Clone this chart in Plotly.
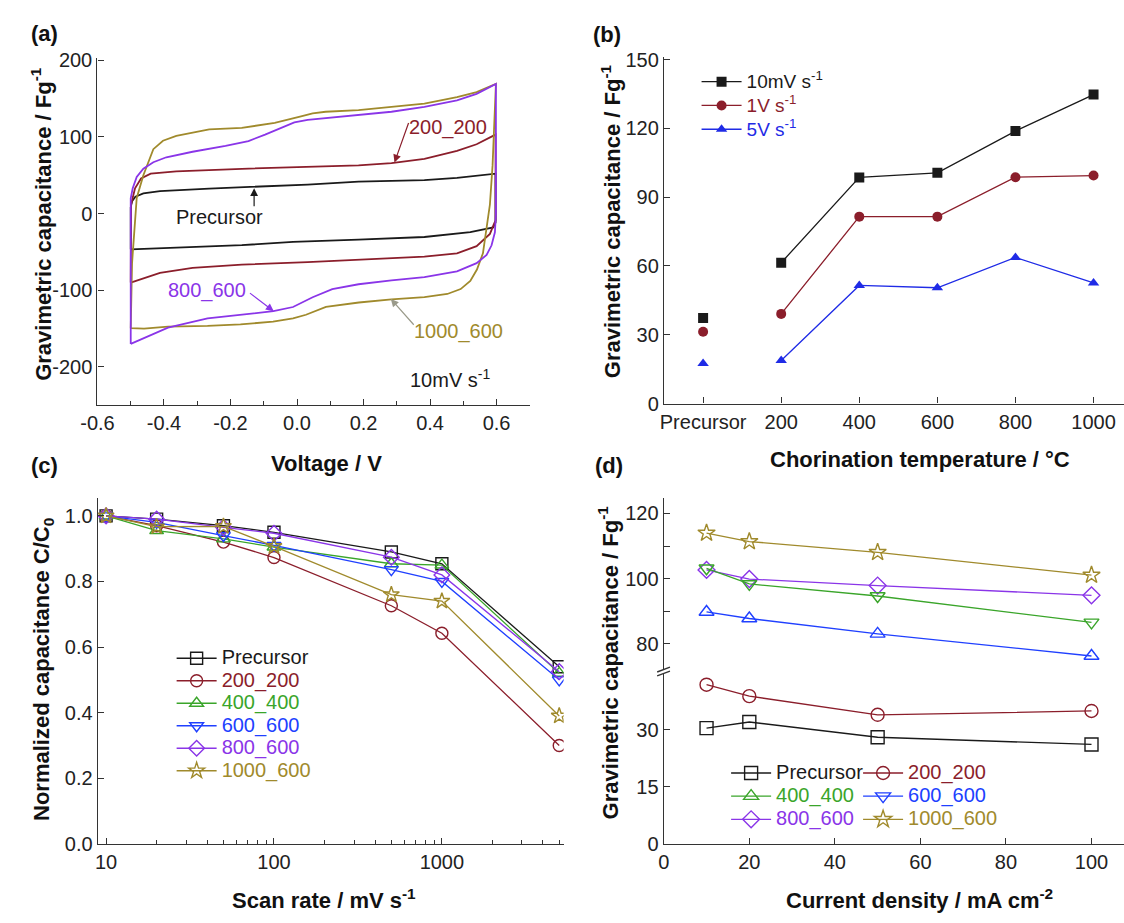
import plotly.graph_objects as go

FONT = "Liberation Sans, Arial, sans-serif"

# ---------------- (a) cyclic voltammograms, 10 mV/s ----------------
cv_pre_v = [-0.500, -0.500, -0.496, -0.486, -0.462, -0.412, -0.264, -0.126, 0.032, 0.185, 0.383, 0.481, 0.597,
            0.597, 0.590, 0.521, 0.383, 0.185, -0.012, -0.166, -0.363, -0.500]
cv_pre_c = [-46.7, 8.0, 16.0, 22.0, 26.3, 29.2, 32.6, 34.7, 37.8, 41.6, 43.7, 46.6, 52.0,
            -11.6, -18.0, -24.3, -30.6, -34.1, -37.0, -41.2, -44.2, -46.7]

cv_200_v = [-0.500, -0.499, -0.487, -0.469, -0.440, -0.363, -0.166, 0.032, 0.185, 0.284, 0.383, 0.481, 0.540, 0.597,
            0.597, 0.592, 0.580, 0.540, 0.481, 0.383, 0.185, 0.032, -0.166, -0.314, -0.412, -0.500]
cv_200_c = [-90.0, 11.8, 33.0, 45.7, 52.0, 55.0, 58.4, 60.6, 62.8, 65.8, 71.3, 81.9, 90.4, 103.0,
            -9.0, -13.8, -26.5, -42.6, -51.9, -56.1, -60.4, -63.3, -66.7, -70.9, -77.3, -90.0]

cv_800_v = [-0.500, -0.500, -0.494, -0.482, -0.462, -0.432, -0.393, -0.314, -0.215, -0.146, -0.096, -0.047, -0.008,
            0.032, 0.086, 0.185, 0.284, 0.383, 0.481, 0.540, 0.598,
            0.598, 0.595, 0.585, 0.570, 0.540, 0.481, 0.383, 0.284, 0.185, 0.106, 0.047, -0.012, -0.071,
            -0.170, -0.269, -0.388, -0.500]
cv_800_c = [-170.0, 20.0, 33.0, 47.8, 58.6, 67.0, 73.4, 80.6, 88.3, 94.6, 103.0, 111.7, 118.8,
            122.3, 124.4, 128.6, 132.8, 139.2, 147.7, 156.2, 169.0,
            -1.0, -24.4, -41.4, -54.1, -64.7, -75.3, -83.0, -87.1, -92.2, -98.5, -109.2, -121.9, -127.4,
            -131.7, -136.8, -148.7, -170.0]

cv_1000_v = [-0.500, -0.496, -0.482, -0.462, -0.432, -0.403, -0.363, -0.264, -0.166, -0.067, 0.012, 0.047, 0.086,
             0.185, 0.284, 0.383, 0.481, 0.540, 0.598,
             0.593, 0.588, 0.580, 0.570, 0.559, 0.541, 0.521, 0.492, 0.452, 0.383, 0.284, 0.186, 0.126, 0.087,
             0.027, -0.012, -0.072, -0.170, -0.269, -0.388, -0.460, -0.500]
cv_1000_c = [-149.5, -64.6, 20.4, 50.0, 84.0, 95.0, 101.2, 109.7, 111.8, 118.2, 126.7, 130.8, 132.8,
             135.0, 139.2, 143.4, 151.9, 158.3, 169.0,
             105.0, 62.8, 11.8, -22.0, -51.8, -73.0, -87.9, -98.5, -104.9, -109.0, -112.0, -116.0, -119.0, -121.8,
             -132.0, -136.6, -141.0, -144.5, -146.6, -147.4, -150.0, -149.5]

# ---------------- (b) capacitance vs chlorination temperature ----------------
temp_labels = ["Precursor", "200", "400", "600", "800", "1000"]
cap_10mV = [37.3, 61.4, 98.6, 100.6, 118.8, 134.7]
cap_1V = [31.3, 39.1, 81.5, 81.5, 98.7, 99.4]
cap_5V = [17.5, 18.8, 51.5, 50.5, 63.7, 52.6]

# ---------------- (c) rate capability ----------------
scan_rate = [10, 20, 50, 100, 500, 1000, 5000]
norm_pre = [1.0, 0.99, 0.97, 0.95, 0.89, 0.854, 0.54]
norm_200 = [1.0, 0.97, 0.92, 0.873, 0.726, 0.642, 0.30]
norm_400 = [1.0, 0.955, 0.93, 0.905, 0.854, 0.85, 0.52]
norm_600 = [1.0, 0.98, 0.94, 0.91, 0.836, 0.80, 0.50]
norm_800 = [1.0, 0.99, 0.965, 0.947, 0.874, 0.82, 0.525]
norm_1000 = [1.0, 0.967, 0.968, 0.907, 0.76, 0.74, 0.39]

# ---------------- (d) galvanostatic capacitance ----------------
current_density = [10, 20, 50, 100]
gc_pre = [30.4, 32.0, 28.0, 26.1]
gc_200 = [41.8, 38.8, 33.9, 34.9]
gc_400 = [103.2, 98.4, 94.7, 86.6]
gc_600 = [89.8, 87.8, 83.1, 76.3]
gc_800 = [102.7, 99.9, 97.9, 94.9]
gc_1000 = [114.0, 111.4, 108.1, 101.1]

BLACK = "#1a1a1a"
RED = "#8b1e2b"
GREEN = "#3aa52a"
BLUE = "#2040ff"
BLUE_B = "#1f2be6"
PURPLE = "#8a35e8"
OLIVE = "#a08a2c"

W, H = 1124, 923
TICK_SIZE = 20
TITLE_SIZE = 22
LEG_TEXT = 20


def px(x):
    return x / W


def py(y):
    return 1 - y / H


def leg_label(text, col, size=LEG_TEXT):
    # legend rows are spaced by the legend font; the label itself is drawn larger
    return f"<span style='font-size:{size}px;color:{col}'>{text}</span>"


fig = go.Figure()

# (a) CV loops
for v, c, col in [(cv_pre_v, cv_pre_c, BLACK), (cv_200_v, cv_200_c, RED),
                  (cv_1000_v, cv_1000_c, OLIVE), (cv_800_v, cv_800_c, PURPLE)]:
    fig.add_trace(go.Scatter(x=v, y=c, mode="lines", line=dict(color=col, width=1.8),
                             xaxis="x", yaxis="y", showlegend=False, hoverinfo="skip"))

# (b) capacitance vs temperature; the precursor stands apart from the connected series
idx = list(range(len(temp_labels)))
for vals, col, sym, name in [
    (cap_10mV, BLACK, "square", "10mV s<sup>-1</sup>"),
    (cap_1V, RED, "circle", "1V s<sup>-1</sup>"),
    (cap_5V, BLUE_B, "triangle-up", "5V s<sup>-1</sup>"),
]:
    fig.add_trace(go.Scatter(x=idx[:1], y=vals[:1], mode="markers",
                             marker=dict(symbol=sym, size=10, color=col),
                             xaxis="x2", yaxis="y2", showlegend=False))
    fig.add_trace(go.Scatter(x=idx[1:], y=vals[1:], mode="lines+markers", name=leg_label(name, col, 19),
                             line=dict(color=col, width=1.3),
                             marker=dict(symbol=sym, size=10, color=col),
                             xaxis="x2", yaxis="y2", legend="legend"))

# (c) normalized capacitance vs scan rate
c_series = [
    (norm_pre, BLACK, "square-open", "Precursor"),
    (norm_200, RED, "circle-open", "200_200"),
    (norm_400, GREEN, "triangle-up-open", "400_400"),
    (norm_600, BLUE, "triangle-down-open", "600_600"),
    (norm_800, PURPLE, "diamond-open", "800_600"),
    (norm_1000, OLIVE, "star-open", "1000_600"),
]
for vals, col, sym, name in c_series:
    fig.add_trace(go.Scatter(x=scan_rate, y=vals, mode="lines+markers", name=leg_label(name, col),
                             line=dict(color=col, width=1.3),
                             marker=dict(symbol=sym, size=12, color=col, line=dict(width=1.4, color=col)),
                             xaxis="x3", yaxis="y3", legend="legend2"))

# (d) gravimetric capacitance vs current density, split axis
d_lower = [(gc_pre, BLACK, "square-open"), (gc_200, RED, "circle-open")]
d_upper = [(gc_1000, OLIVE, "star-open"), (gc_800, PURPLE, "diamond-open"),
           (gc_400, GREEN, "triangle-down-open"), (gc_600, BLUE, "triangle-up-open")]
for vals, col, sym in d_lower:
    fig.add_trace(go.Scatter(x=current_density, y=vals, mode="lines+markers",
                             line=dict(color=col, width=1.3),
                             marker=dict(symbol=sym, size=13, color=col, line=dict(width=1.4, color=col)),
                             xaxis="x4", yaxis="y5", showlegend=False))
for vals, col, sym in d_upper:
    fig.add_trace(go.Scatter(x=current_density, y=vals, mode="lines+markers",
                             line=dict(color=col, width=1.3),
                             marker=dict(symbol=sym, size=13, color=col, line=dict(width=1.4, color=col)),
                             xaxis="x4", yaxis="y4", showlegend=False))

# legend entries for (d), in two columns
d_legend = [
    ("legend3", "Precursor", BLACK, "square-open"),
    ("legend3", "400_400", GREEN, "triangle-up-open"),
    ("legend3", "800_600", PURPLE, "diamond-open"),
    ("legend4", "200_200", RED, "circle-open"),
    ("legend4", "600_600", BLUE, "triangle-down-open"),
    ("legend4", "1000_600", OLIVE, "star-open"),
]
for lg_id, name, col, sym in d_legend:
    fig.add_trace(go.Scatter(x=[None], y=[None], mode="lines+markers", name=leg_label(name, col),
                             line=dict(color=col, width=1.3),
                             marker=dict(symbol=sym, size=13, color=col, line=dict(width=1.4, color=col)),
                             xaxis="x4", yaxis="y4", legend=lg_id))

axis_base = dict(showline=True, linecolor="#333", linewidth=1.4, ticks="inside", ticklen=6,
                 tickwidth=1.3, tickcolor="#333", showgrid=False, zeroline=False,
                 tickfont=dict(family=FONT, size=TICK_SIZE, color="#222"))


def ax(**kw):
    d = dict(axis_base)
    d.update(kw)
    return d


a_xticks = [-0.6, -0.4, -0.2, 0.0, 0.2, 0.4, 0.6]
a_xtext = ["-0.6", "-0.4", "-0.2", "0.0", "0.2", "0.4", "0.6"]
a_yticks = [-200, -100, 0, 100, 200]
a_ytext = ["-200", "-100", "0", "100", "200"]
c_yticks = [0.0, 0.2, 0.4, 0.6, 0.8, 1.0]
c_ytext = ["0.0", "0.2", "0.4", "0.6", "0.8", "1.0"]

log_minor = [m * 10 ** e for e in (1, 2, 3) for m in range(2, 10) if m * 10 ** e <= 5000]


def lg(x, y, row_font):
    return dict(bgcolor="rgba(0,0,0,0)", borderwidth=0,
                font=dict(family=FONT, size=row_font, color="#111"),
                xanchor="left", yanchor="top", itemwidth=40, tracegroupgap=0,
                x=px(x), y=py(y))


fig.update_layout(
    width=W, height=H, margin=dict(l=0, r=0, t=0, b=0),
    paper_bgcolor="white", plot_bgcolor="white",
    font=dict(family=FONT, color="#111"),
    xaxis=ax(domain=[px(81.7), px(520.7)], range=[-0.6, 0.7], anchor="y",
             tickvals=a_xticks, ticktext=a_xtext,
             minor=dict(tickvals=[-0.5, -0.3, -0.1, 0.1, 0.3, 0.5], ticks="inside", ticklen=4,
                        tickcolor="#333", tickwidth=1.2)),
    yaxis=ax(domain=[py(405), py(50)], range=[-250, 203], anchor="x",
             tickvals=a_yticks, ticktext=a_ytext),
    xaxis2=ax(domain=[px(657), 1.0], range=[-0.5, 5.39], anchor="y2",
              tickvals=idx, ticktext=temp_labels),
    yaxis2=ax(domain=[py(403.3), py(49.3)], range=[0, 151], anchor="x2", dtick=30, tick0=0),
    xaxis3=ax(type="log", domain=[px(82.1), px(555)], range=[0.951, 3.725], anchor="y3",
              tickvals=[10, 100, 1000], ticktext=["10", "100", "1000"],
              minor=dict(tickvals=log_minor, ticks="inside", ticklen=4, tickcolor="#333", tickwidth=1.2)),
    yaxis3=ax(domain=[py(853.3), py(500)], range=[0, 1.054], anchor="x3",
              tickvals=c_yticks, ticktext=c_ytext),
    xaxis4=ax(domain=[px(656.7), 1.0], range=[0, 107.6], anchor="y5", dtick=20, tick0=0),
    yaxis4=ax(domain=[py(675), py(500)], range=[72.2, 124.7], anchor="x4",
              tickvals=[80, 100, 120],
              minor=dict(tickvals=[90, 110], ticks="inside", ticklen=6, tickcolor="#333", tickwidth=1.3)),
    yaxis5=ax(domain=[py(853.3), py(679)], range=[0, 44.8], anchor="x4", tickvals=[0, 15, 30]),
    legend=lg(690, 57, 16),
    legend2=lg(157, 647, 15),
    legend3=lg(720, 764, 15.5),
    legend4=lg(854, 764, 15.5),
)

# axis-break marks on the (d) capacitance axis
for y0, y1 in [(677.7, 672.7), (681.7, 676.7)]:
    fig.add_shape(type="line", xref="paper", yref="paper", x0=px(650), x1=px(663),
                  y0=py(y0), y1=py(y1), line=dict(color="#333", width=1.4))

ann = []


def title(text, x, y, angle=0, size=TITLE_SIZE):
    ann.append(dict(text=f"<b>{text}</b>", x=px(x), y=py(y), xref="paper", yref="paper",
                    showarrow=False, textangle=angle, xanchor="center", yanchor="middle",
                    font=dict(family=FONT, size=size, color="#111")))


title("Gravimetric capacitance / Fg<sup>-1</sup>", 25, 220, -90)
title("Voltage / V", 314, 465)
title("Gravimetric capacitance / Fg<sup>-1</sup>", 603, 217, -90)
title("Chorination temperature / °C", 917, 460)
title("Normalized capacitance C/C<sub>0</sub>", 27, 675, -90)
title("Scan rate / mV s<sup>-1</sup>", 312, 910)
title("Gravimetric capacitance / Fg<sup>-1</sup>", 600, 668, -90)
title("Current density / mA cm<sup>-2</sup>", 916, 910)

for lab, x, y in [("(a)", 12, 25), ("(b)", 583, 26), ("(c)", 12, 467), ("(d)", 585, 467)]:
    ann.append(dict(text=f"<b>{lab}</b>", x=px(x), y=py(y), xref="paper", yref="paper",
                    showarrow=False, xanchor="left", yanchor="middle",
                    font=dict(family=FONT, size=22, color="#111")))

# labels and pointers inside (a)
for text, x, y, col in [("200_200", 0.453, 112.5, RED), ("Precursor", -0.232, -4, BLACK),
                        ("800_600", -0.272, -100.9, PURPLE), ("1000_600", 0.487, -153.8, OLIVE),
                        ("10mV s<sup>-1</sup>", 0.461, -214.7, BLACK)]:
    ann.append(dict(text=text, x=x, y=y, xref="x", yref="y", showarrow=False,
                    font=dict(family=FONT, size=20, color=col)))

for tail, tip, col in [((0.337, 120), (0.293, 66.6), RED), ((-0.129, 7.6), (-0.129, 33.1), BLACK),
                       ((-0.146, -102.3), (-0.070, -127.4), PURPLE),
                       ((0.355, -147), (0.282, -111.3), "#9a9a8a")]:
    ann.append(dict(text="", x=tip[0], y=tip[1], ax=tail[0], ay=tail[1], xref="x", yref="y",
                    axref="x", ayref="y", showarrow=True, arrowhead=2, arrowsize=1.3,
                    arrowwidth=1.2, arrowcolor=col))

fig.update_layout(annotations=ann)

fig.write_html("out.html")
